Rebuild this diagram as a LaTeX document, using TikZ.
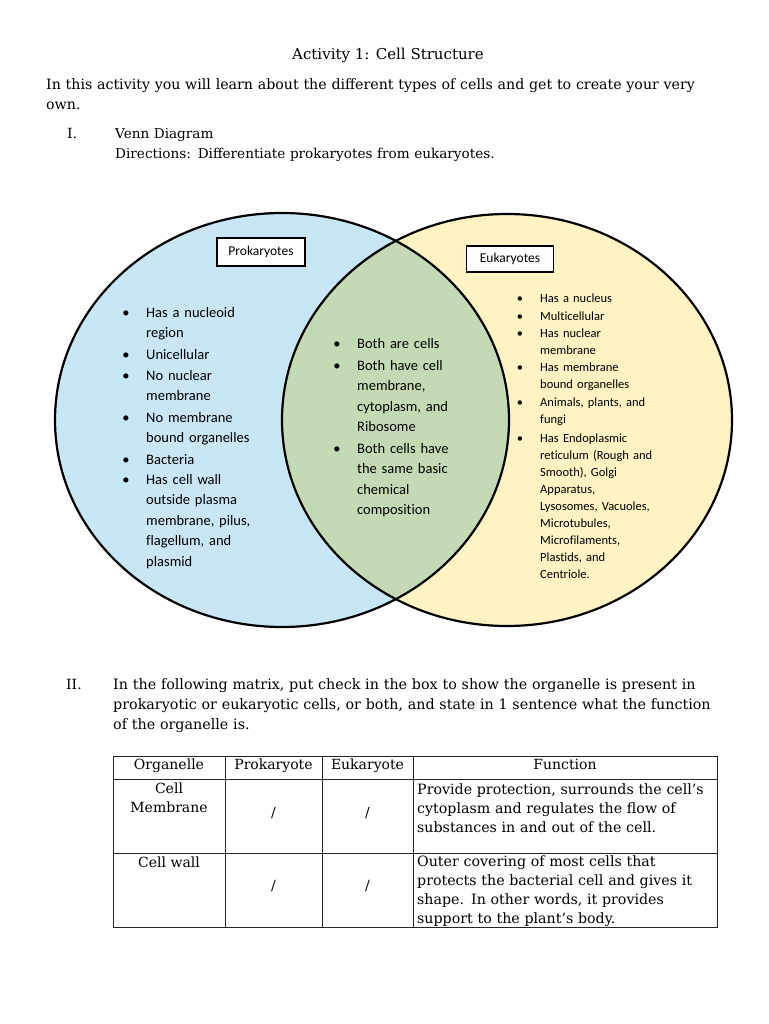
\documentclass[tikz,border=0pt]{standalone}
\usepackage{fontspec}
\setmainfont{DejaVu Serif}
\newfontfamily\vennfont[Ligatures={NoCommon}]{Carlito}
\usetikzlibrary{positioning}

\definecolor{prokblue}{RGB}{200,230,245}
\definecolor{eukyellow}{RGB}{255,242,195}
\definecolor{bothgreen}{RGB}{196,218,180}

\begin{document}
\begin{tikzpicture}[
    x=1pt, y=-1pt,
    body/.style={anchor=base west,inner sep=0pt,align=left,text width=660pt,
                 font=\fontsize{14}{20}\selectfont},
    ring/.style={draw=black,line width=2.2pt},
    tag/.style={rectangle,draw,line width=1.3pt,fill=white,inner sep=0pt,
                minimum width=88pt,minimum height=28pt,font=\vennfont\fontsize{13.5}{16}\selectfont},
    vitem/.style={anchor=base west,inner sep=0pt,align=left,text width=170pt,
                  font=\vennfont\fontsize{14.5}{20.6}\selectfont},
    vdot/.style={anchor=base,inner sep=0pt,font=\vennfont\fontsize{14.5}{20.6}\selectfont},
    sitem/.style={vitem,font=\vennfont\fontsize{12.5}{17}\selectfont},
    sdot/.style={vdot,font=\vennfont\fontsize{12.5}{17}\selectfont},
    grid/.style={draw=black!85,line width=0.9pt},
    cell/.style={anchor=base,inner sep=0pt,align=center,text width=100pt,
                 font=\fontsize{14}{19}\selectfont},
    fcell/.style={anchor=base west,inner sep=0pt,align=left,text width=310pt,
                  font=\fontsize{14.2}{19}\selectfont}
]
\useasboundingbox[fill=white] (0,0) rectangle (768,1024);

%--- Heading and directions ---%
\node[body,anchor=base,text width=,align=center,font=\fontsize{15}{20}\selectfont] (title) at (388,60) {Activity 1: Cell Structure};
\node[body,font=\fontsize{14.2}{20}\selectfont] (intro) at (46,90) {In this activity you will learn about the different types of cells and get to create your very\\own.};
\node[body,text width=] (numI) at (67,139) {I.};
\node[body,font=\fontsize{13.6}{20}\selectfont] (venn) at (115,139) {Venn Diagram\\Directions: Differentiate prokaryotes from eukaryotes.};

%--- Venn diagram ---%
\coordinate (pc) at (282,420);
\coordinate (ec) at (507,420);
\fill[prokblue] (pc) ellipse [x radius=227, y radius=207];
\fill[eukyellow] (ec) ellipse [x radius=225, y radius=206];
\begin{scope}
  \clip (pc) ellipse [x radius=227, y radius=207];
  \fill[bothgreen] (ec) ellipse [x radius=225, y radius=206];
\end{scope}
\draw[ring] (pc) ellipse [x radius=227, y radius=207];
\draw[ring] (ec) ellipse [x radius=225, y radius=206];

\node[tag] (prok) at (261,252) {Prokaryotes};
\node[tag,minimum width=87pt,minimum height=26pt] (euk) at (510,259) {Eukaryotes};

% prokaryotes only
\node[vdot] (pd1) at (126,317) {•};
\node[vitem] (p1) at (146,317) {Has a nucleoid\\region};
\node[vdot] (pd2) at (126,359) {•};
\node[vitem] (p2) at (146,359) {Unicellular};
\node[vdot] (pd3) at (126,380) {•};
\node[vitem] (p3) at (146,380) {No nuclear\\membrane};
\node[vdot] (pd4) at (126,422) {•};
\node[vitem] (p4) at (146,422) {No membrane\\bound organelles};
\node[vdot] (pd5) at (126,464) {•};
\node[vitem] (p5) at (146,464) {Bacteria};
\node[vdot] (pd6) at (126,484) {•};
\node[vitem] (p6) at (146,484) {Has cell wall\\outside plasma\\membrane, pilus,\\flagellum, and\\plasmid};

% shared
\node[vdot] (bd1) at (337,348) {•};
\node[vitem] (b1) at (357,348) {Both are cells};
\node[vdot] (bd2) at (337,370) {•};
\node[vitem] (b2) at (357,370) {Both have cell\\membrane,\\cytoplasm, and\\Ribosome};
\node[vdot] (bd3) at (337,453) {•};
\node[vitem] (b3) at (357,453) {Both cells have\\the same basic\\chemical\\composition};

% eukaryotes only
\node[sdot] (ed1) at (520,302) {•};
\node[sitem] (e1) at (540,302) {Has a nucleus};
\node[sdot] (ed2) at (520,320) {•};
\node[sitem] (e2) at (540,320) {Multicellular};
\node[sdot] (ed3) at (520,337) {•};
\node[sitem] (e3) at (540,337) {Has nuclear\\membrane};
\node[sdot] (ed4) at (520,371) {•};
\node[sitem] (e4) at (540,371) {Has membrane\\bound organelles};
\node[sdot] (ed5) at (520,406) {•};
\node[sitem] (e5) at (540,406) {Animals, plants, and\\fungi};
\node[sdot] (ed6) at (520,442) {•};
\node[sitem] (e6) at (540,442) {Has Endoplasmic\\reticulum (Rough and\\Smooth), Golgi\\Apparatus,\\Lysosomes, Vacuoles,\\Microtubules,\\Microfilaments,\\Plastids, and\\Centriole.};

%--- Matrix ---%
\node[body,text width=] (numII) at (66,689) {II.};
\node[body,font=\fontsize{14.3}{20}\selectfont] (task) at (113,689) {In the following matrix, put check in the box to show the organelle is present in\\prokaryotic or eukaryotic cells, or both, and state in 1 sentence what the function\\of the organelle is.};

\draw[grid] (113,756) rectangle (717,927);
\draw[grid] (113,779) -- (717,779);
\draw[grid] (113,853) -- (717,853);
\draw[grid] (225,756) -- (225,927);
\draw[grid] (322,756) -- (322,927);
\draw[grid] (413,756) -- (413,927);

\node[cell] (hOrg) at (169,769) {Organelle};
\node[cell] (hPro) at (273.5,769) {Prokaryote};
\node[cell] (hEuk) at (367.5,769) {Eukaryote};
\node[cell] (hFun) at (565,769) {Function};

\node[cell] (memb) at (169,793) {Cell\\Membrane};
\node[cell] (membP) at (273.5,817) {/};
\node[cell] (membE) at (367.5,817) {/};
\node[fcell] (membF) at (417,794) {Provide protection, surrounds the cell's\\cytoplasm and regulates the flow of\\substances in and out of the cell.};

\node[cell] (wall) at (169,867) {Cell wall};
\node[cell] (wallP) at (273.5,890) {/};
\node[cell] (wallE) at (367.5,890) {/};
\node[fcell] (wallF) at (417,866) {Outer covering of most cells that\\protects the bacterial cell and gives it\\shape. In other words, it provides\\support to the plant’s body.};

\end{tikzpicture}
\end{document}
